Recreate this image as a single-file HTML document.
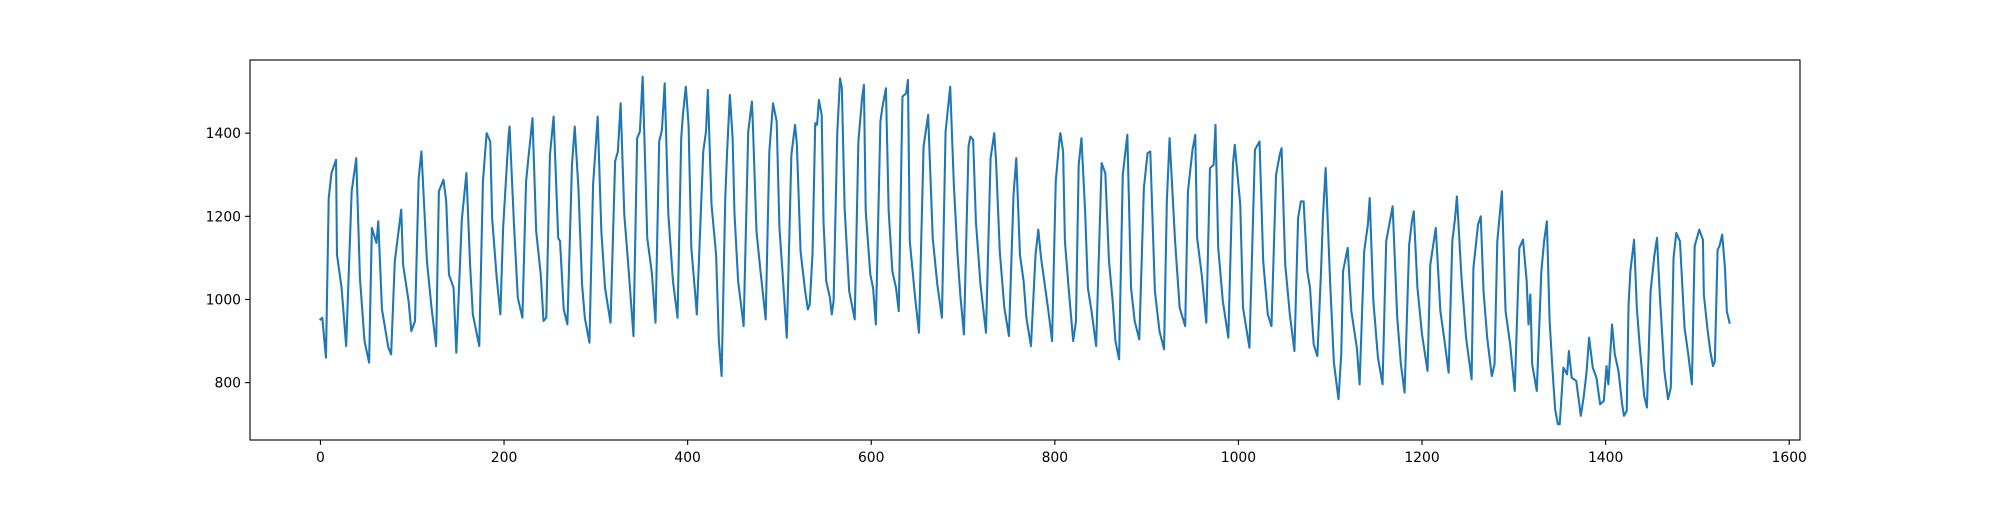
<!DOCTYPE html>
<html><head><meta charset="utf-8"><style>
html,body{margin:0;padding:0;background:#fff;}
svg text{font-family:"DejaVu Sans","Liberation Sans",sans-serif;font-size:13.9px;fill:#000;}
</style></head><body>
<svg id="chart" width="2000" height="500" xmlns="http://www.w3.org/2000/svg">
<rect x="0" y="0" width="2000" height="500" fill="#fff"/>
<defs><clipPath id="clip"><rect x="250" y="60" width="1550" height="380"/></clipPath></defs>
<g id="xticks"></g>
<g id="yticks"></g>
<path id="series" fill="none" stroke="#1f77b4" stroke-width="2.08" stroke-linejoin="round" stroke-linecap="square" clip-path="url(#clip)"/>
<rect x="250" y="60" width="1550" height="380" fill="none" stroke="#000" stroke-width="1.1"/>
</svg>
<script>
const xTicks=[0,200,400,600,800,1000,1200,1400,1600];
const yTicks=[800,1000,1200,1400];
const xs=[0,2,6,9,12,17,18,23,28,34,39,43,48,53,56,61,63,67,74,77,81,88,90,96,99,103,107,110,116,121,126,129,134,137,140,145,148,154,159,163,166,173,177,181,185,187,192,196,199,205,206,211,215,220,224,228,231,235,240,243,246,250,254,259,
261,265,269,274,277,281,285,288,293,297,302,306,310,316,321,324,327,331,335,341,345,348,351,356,361,365,369,372,375,379,384,389,393,395,398,401,404,408,410,417,420,422,426,431,434,437,441,443,446,449,451,455,461,466,470,471,475,479,485,489,493,497,500,503,508,513,517,519,523,528,531,
533,536,539,541,543,546,548,551,555,557,559,563,566,568,571,576,582,586,590,592,594,599,602,605,610,612,616,619,623,627,630,634,638,640,642,648,652,657,662,667,672,677,681,686,690,694,697,701,706,708,711,714,719,725,730,734,736,740,745,750,755,758,762,766,769,774,779,782,785,789,793,797,801,805,
806,809,811,815,820,823,826,829,833,836,840,845,851,855,859,863,866,870,874,879,883,887,892,897,901,904,909,914,919,922,925,931,936,942,945,950,953,955,960,965,969,973,975,978,983,989,994,996,1002,1005,1012,1018,1023,1027,1032,1036,1041,1045,1047,1051,1056,1061,1065,1068,1071,1075,
1078,1080,1082,1086,1090,1092,1095,1100,1104,1109,1112,1114,1119,1123,1129,1132,1137,1141,1143,1147,1152,1157,1161,1165,1168,1173,1177,1181,1186,1189,1191,1195,1200,1206,1209,1215,1220,1225,1229,1233,1236,1238,1243,1248,1254,1256,1261,1264,1267,1271,1276,1279,1282,1287,1291,1296,1301,1306,1310,1314,1316,1318,1320,1325,1330,1333,1336,1339,1342,1345,1348,
1350,1354,1358,1360,1363,1368,1373,1376,1379,1382,1386,1390,1394,1398,1401,1403,1407,1410,1414,1418,1420,1423,1425,1427,1431,1434,1437,1442,1445,1449,1453,1456,1459,1464,1468,1471,1474,1477,1481,1486,1490,1494,1497,1502,1506,1507,1511,1514,1517,1519,1522,1524,1527,1530,1532,1535];
const ys=[952,956,860,1244,1304,1336,1108,1028,888,1260,1340,1052,900,848,1172,1136,1188,976,884,868,1092,1216,1084,996,924,948,1292,1356,1092,980,888,1260,1288,1236,1060,1028,872,1192,1304,1084,964,888,1284,1400,1380,1196,1052,964,1172,1396,1416,1172,1004,956,1284,1372,1436,1164,1060,948,956,1348,1440,1148,
1140,976,940,1324,1416,1268,1036,956,896,1276,1440,1164,1028,944,1332,1356,1472,1204,1092,912,1388,1404,1536,1148,1064,944,1380,1408,1520,1204,1044,956,1388,1448,1512,1420,1124,1020,964,1356,1404,1504,1228,1108,900,816,1244,1356,1492,1388,1208,1044,936,1404,1476,1424,1164,1076,952,1356,1472,1428,1172,1076,908,1348,1420,1372,1116,1020,976,
988,1108,1424,1420,1480,1444,1188,1044,1004,964,996,1400,1532,1508,1220,1020,952,1380,1484,1516,1212,1060,1028,940,1428,1460,1508,1212,1068,1028,972,1488,1496,1528,1140,1000,920,1368,1444,1148,1036,956,1404,1512,1276,1108,1012,916,1368,1392,1384,1188,1036,920,1340,1400,1332,1116,980,912,1252,1340,1108,1044,956,888,1108,1168,1100,1036,972,900,1284,1384,
1400,1356,1140,1028,900,948,1324,1388,1212,1028,972,888,1328,1304,1092,996,900,856,1300,1396,1028,948,904,1268,1352,1356,1020,924,880,1236,1388,1140,980,936,1260,1360,1396,1148,1060,944,1316,1324,1420,1124,996,908,1324,1372,1228,980,884,1360,1380,1092,964,936,1300,1348,1364,1084,964,876,1196,1236,1236,1068,
1028,956,892,864,1068,1196,1316,1036,848,760,868,1068,1124,972,884,796,1116,1180,1244,996,860,796,1140,1188,1224,956,844,776,1132,1188,1212,1028,916,828,1084,1172,972,892,824,1140,1196,1248,1052,908,808,1076,1180,1200,1020,908,816,844,1140,1260,972,892,780,1124,1144,1044,940,1012,844,780,1068,1140,1188,948,836,736,700,
700,836,820,876,812,804,720,764,820,908,836,812,748,756,840,796,940,868,828,748,720,732,988,1068,1144,980,892,768,740,1020,1104,1148,1012,828,760,788,1100,1160,1140,932,868,796,1128,1168,1144,1012,928,876,840,852,1120,1128,1156,1076,972,944];
const L=250,R=1800,T=60,B=440,XMIN=-76.75,XMAX=1611.75,YMIN=662,YMAX=1576;
function sx(v){return L+(v-XMIN)/(XMAX-XMIN)*(R-L);}
function sy(v){return B-(v-YMIN)/(YMAX-YMIN)*(B-T);}
const NS="http://www.w3.org/2000/svg";
const gx=document.getElementById('xticks'),gy=document.getElementById('yticks');
xTicks.forEach(t=>{
  const x=sx(t);
  const ln=document.createElementNS(NS,'line');
  ln.setAttribute('x1',x);ln.setAttribute('x2',x);ln.setAttribute('y1',B);ln.setAttribute('y2',B+4.9);
  ln.setAttribute('stroke','#000');ln.setAttribute('stroke-width','1.1');
  
  
  gx.appendChild(ln);
  const tx=document.createElementNS(NS,'text');
  tx.setAttribute('x',x);tx.setAttribute('y',B+22);tx.setAttribute('text-anchor','middle');
  tx.textContent=String(t);
  
  
  gx.appendChild(tx);
});
yTicks.forEach(t=>{
  const y=sy(t);
  const ln=document.createElementNS(NS,'line');
  ln.setAttribute('x1',L-4.9);ln.setAttribute('x2',L);ln.setAttribute('y1',y);ln.setAttribute('y2',y);
  ln.setAttribute('stroke','#000');ln.setAttribute('stroke-width','1.1');
  
  
  gy.appendChild(ln);
  const tx=document.createElementNS(NS,'text');
  tx.setAttribute('x',L-9);tx.setAttribute('y',y+5);tx.setAttribute('text-anchor','end');
  tx.textContent=String(t);
  
  
  gy.appendChild(tx);
});
let d='';
for(let i=0;i<xs.length&&i<ys.length;i++){d+=(i?'L':'M')+sx(xs[i]).toFixed(2)+','+sy(ys[i]).toFixed(2);}
document.getElementById('series').setAttribute('d',d);
</script>
</body></html>
